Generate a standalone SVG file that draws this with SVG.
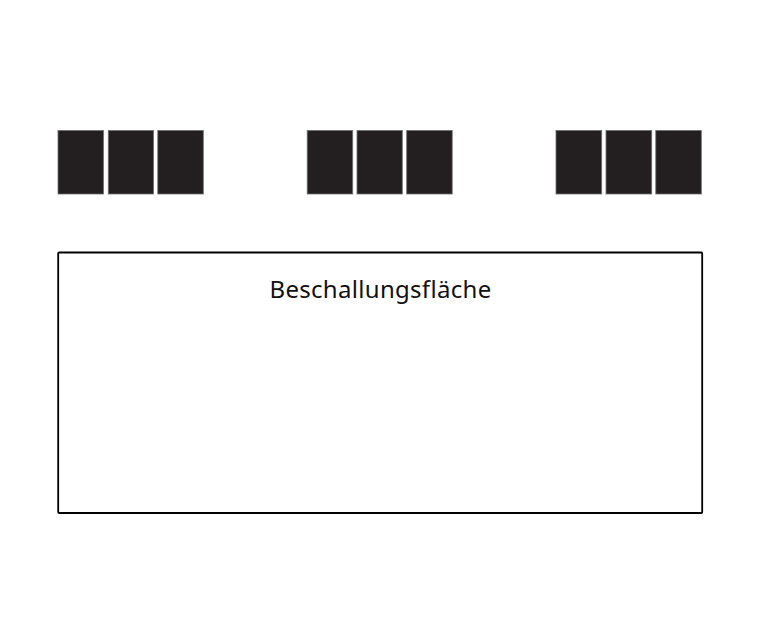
<svg xmlns="http://www.w3.org/2000/svg" width="768" height="637" viewBox="0 0 768 637">
<style>
.sp{fill:#231f20;stroke:#6d6e71;stroke-width:0.8}
.area{fill:#ffffff;stroke:#000000;stroke-width:1.8}
.lbl{font-family:"Noto Sans","Liberation Sans",sans-serif;font-size:24px;letter-spacing:0.3px;fill:#111111}
</style>
<rect width="768" height="637" fill="#ffffff"/>
<g id="speakers-left">
<rect class="sp" x="58" y="130.5" width="45.5" height="63.5"/>
<rect class="sp" x="108.3" y="130.5" width="45.2" height="63.5"/>
<rect class="sp" x="157.8" y="130.5" width="45.5" height="63.5"/>
</g>
<g id="speakers-center">
<rect class="sp" x="307.2" y="130.5" width="45.5" height="63.5"/>
<rect class="sp" x="357" y="130.5" width="45.3" height="63.5"/>
<rect class="sp" x="406.7" y="130.5" width="45.5" height="63.5"/>
</g>
<g id="speakers-right">
<rect class="sp" x="556" y="130.5" width="45.7" height="63.5"/>
<rect class="sp" x="606" y="130.5" width="45.7" height="63.5"/>
<rect class="sp" x="655.8" y="130.5" width="45.5" height="63.5"/>
</g>
<g id="beschallungsflaeche">
<rect class="area" x="58.2" y="252.5" width="644" height="260.5" rx="1"/>
<text class="lbl" x="380.5" y="297.5" text-anchor="middle">Beschallungsfläche</text>
</g>
<g id="connectors"></g>
</svg>
